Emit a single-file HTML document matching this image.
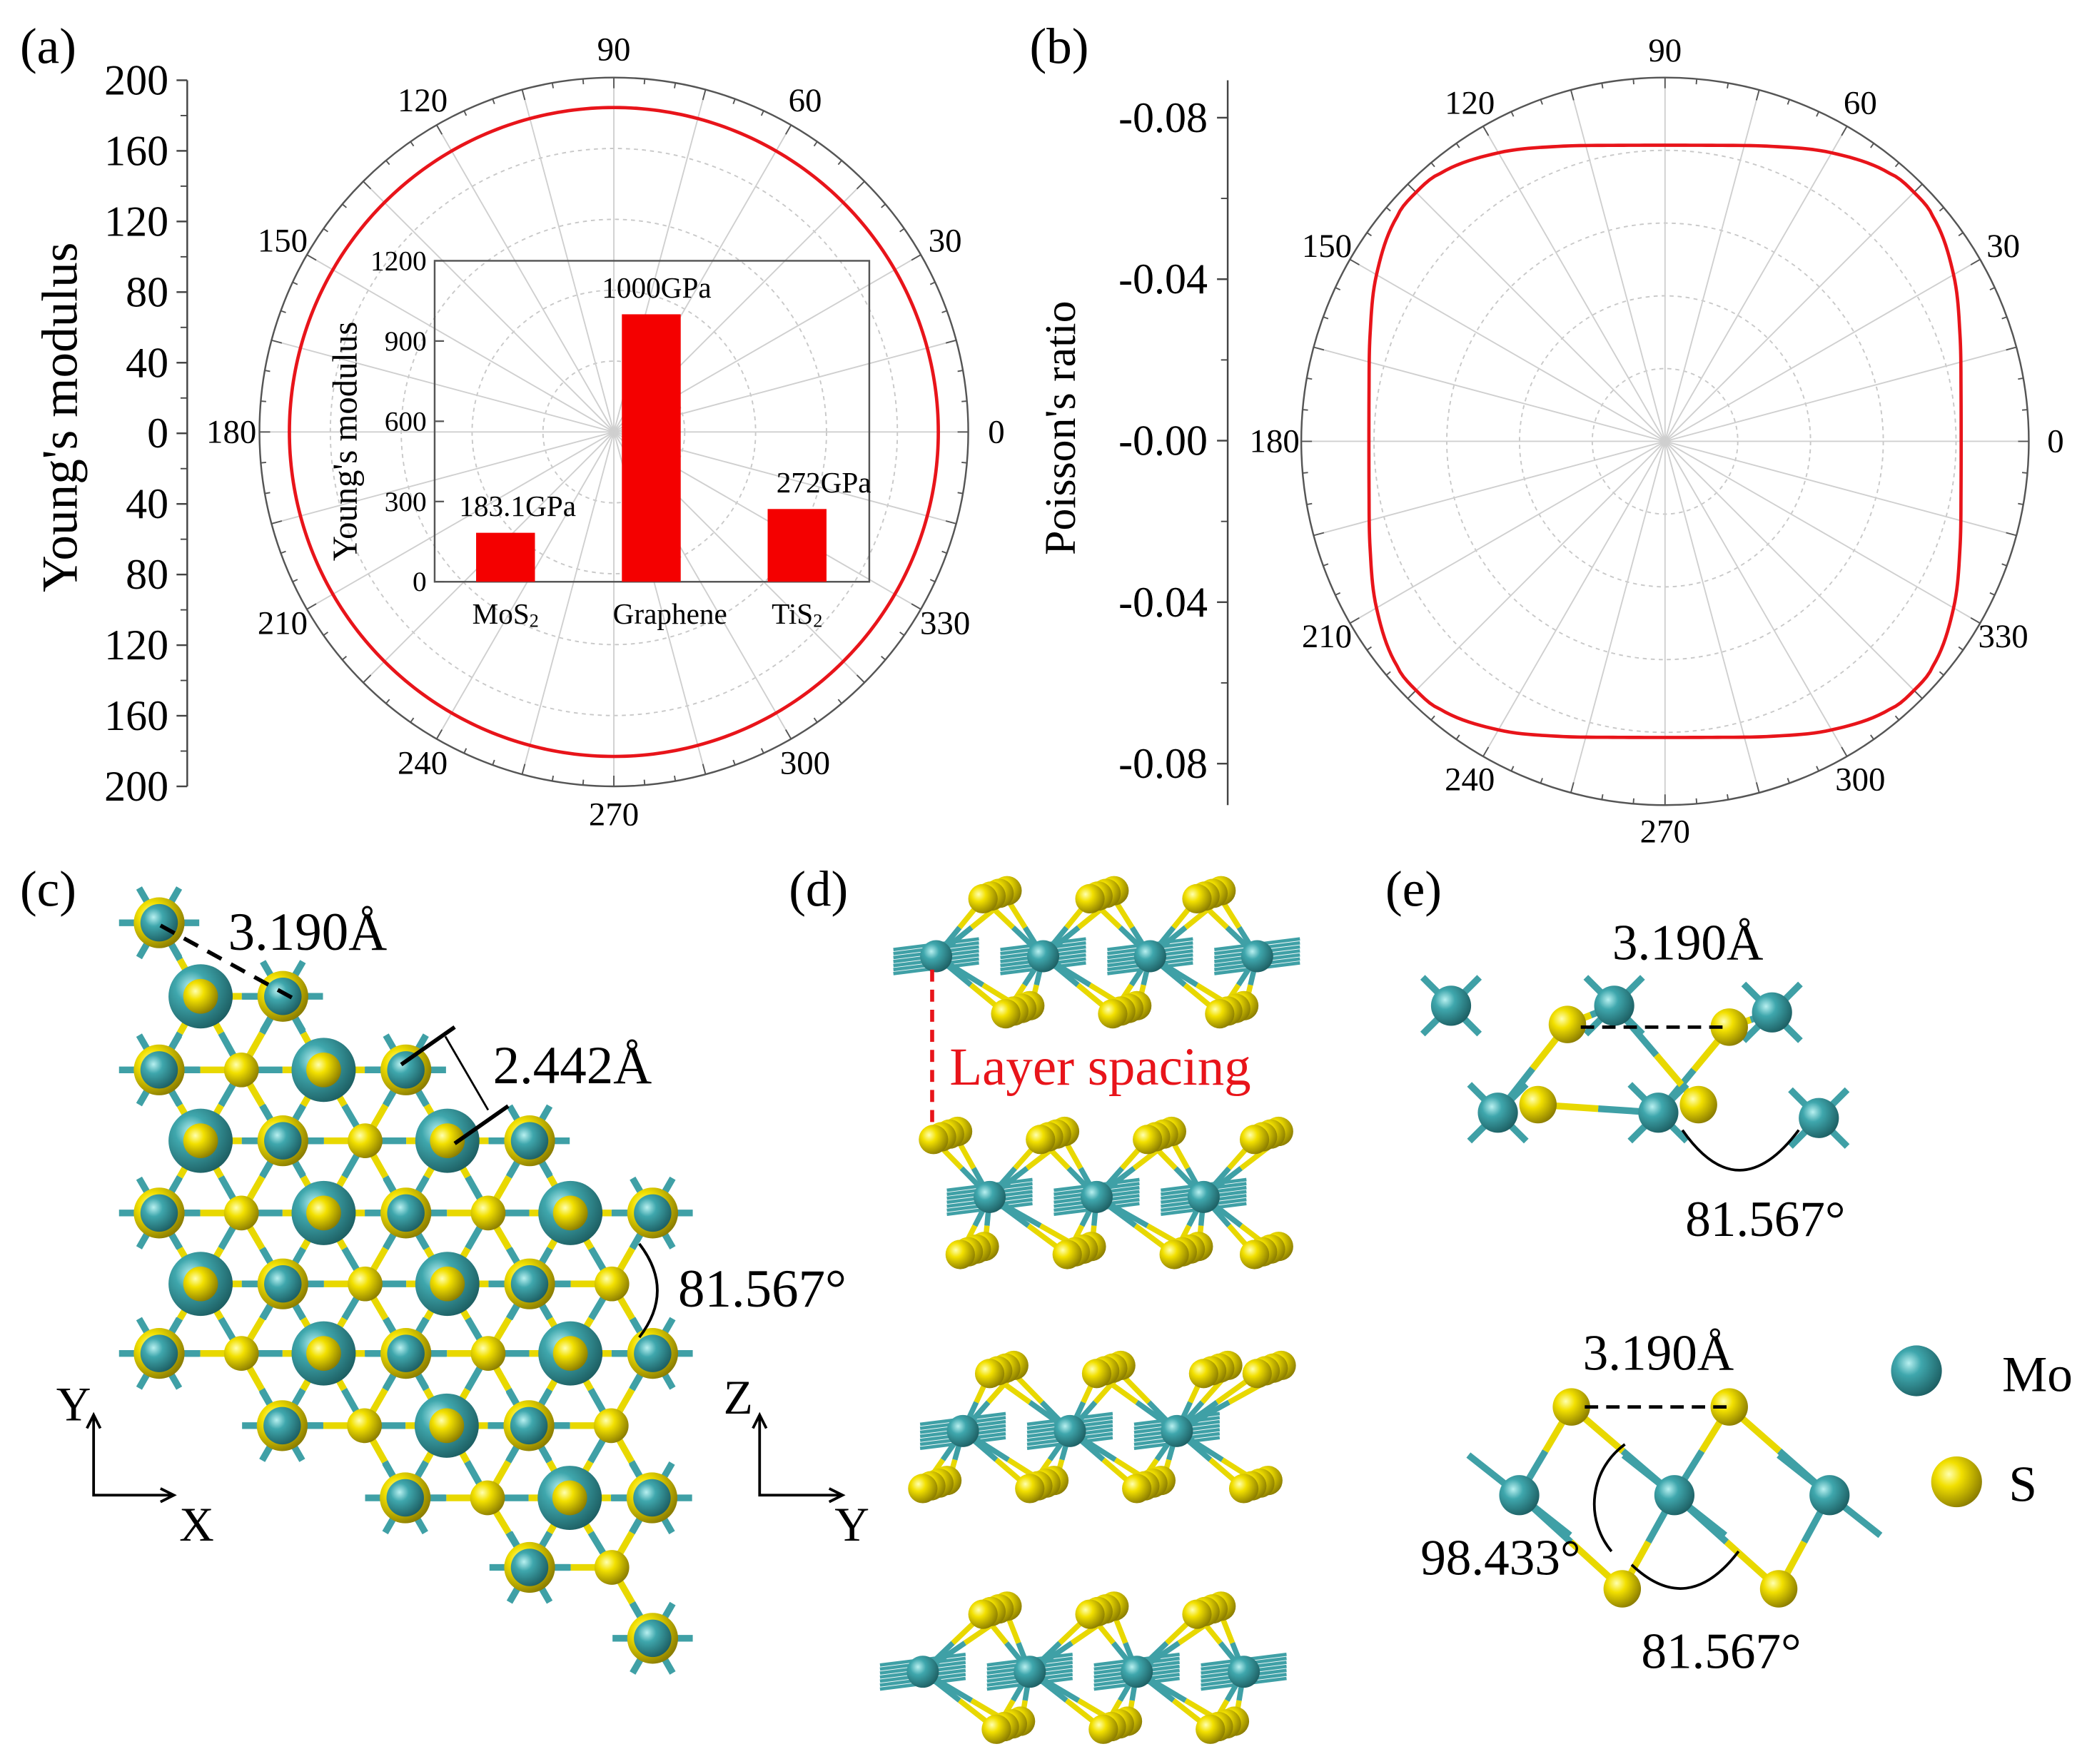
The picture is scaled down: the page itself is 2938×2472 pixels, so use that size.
<!DOCTYPE html>
<html><head><meta charset="utf-8"><style>
html,body{margin:0;padding:0;background:#fff;}
svg{display:block;}
svg text{font-family:"Liberation Serif","Times New Roman","DejaVu Serif",serif;}
</style></head><body>
<svg id="fig" width="2938" height="2472" viewBox="0 0 1568 1319" preserveAspectRatio="none" xmlns="http://www.w3.org/2000/svg">
<defs>
<radialGradient id="gMo" cx="0.35" cy="0.35" r="0.7"><stop offset="0" stop-color="#b8f0f0"/><stop offset="0.35" stop-color="#3fa7ad"/><stop offset="1" stop-color="#1d5f63"/></radialGradient>
<radialGradient id="gS" cx="0.35" cy="0.35" r="0.7"><stop offset="0" stop-color="#ffffb0"/><stop offset="0.35" stop-color="#f2e000"/><stop offset="1" stop-color="#8a7c00"/></radialGradient>
</defs>
</svg>
<script>
// ---- data ----
const ymTicks=['200','160','120','80','40','0','40','80','120','160','200'];
const youngTheta=[0,30,60,90,120,150,180,210,240,270,300,330];
const youngR=[183.1,183.1,183.1,183.1,183.1,183.1,183.1,183.1,183.1,183.1,183.1,183.1];
const insetCats=['MoS','Graphene','TiS'];
const insetVals=[183.1,1000,272];
const insetLabels=['183.1GPa','1000GPa','272GPa'];
const insetTicks=[0,300,600,900,1200];
const prTicks=['-0.08','-0.04','-0.00','-0.04','-0.08'];
const poissonTheta=[0,10,20,30,40,45,50,60,70,80,90,100,110,120,130,135,140,150,160,170,180,190,200,210,220,225,230,240,250,260,270,280,290,300,310,315,320,330,340,350];
const poissonR=[0.0735,0.0746,0.0779,0.0827,0.0868,0.0874,0.0868,0.0827,0.0779,0.0746,0.0735,0.0746,0.0779,0.0827,0.0868,0.0874,0.0868,0.0827,0.0779,0.0746,0.0735,0.0746,0.0779,0.0827,0.0868,0.0874,0.0868,0.0827,0.0779,0.0746,0.0735,0.0746,0.0779,0.0827,0.0868,0.0874,0.0868,0.0827,0.0779,0.0746];
const angleLabels=[0,30,60,90,120,150,180,210,240,270,300,330];

const NS='http://www.w3.org/2000/svg';
const svg=document.getElementById('fig');
function mk(tag,parent,attrs){const e=document.createElementNS(NS,tag);for(const k in attrs)e.setAttribute(k,attrs[k]);(parent||svg).appendChild(e);return e;}
function txt(parent,x,y,s,size,anchor,extra){const t=mk('text',parent,Object.assign({x:x,y:y,'font-size':size,'text-anchor':anchor||'middle','dominant-baseline':'central'},extra||{}));t.style.fontFamily='"Liberation Serif","Times New Roman","DejaVu Serif",serif';t.textContent=s;return t;}
function grp(name){const g=mk('g',svg,{});return g;}

function polarPath(cx,cy,thetas,rs,scale){
  const n=thetas.length;let d='';
  for(let a=0;a<=360;a+=1){
    let i=0;while(i<n-1&&thetas[i+1]<=a)i++;
    const t0=thetas[i],t1=(i+1<n)?thetas[i+1]:thetas[0]+360;
    const p0=rs[(i-1+n)%n],p1=rs[i],p2=rs[(i+1)%n],p3=rs[(i+2)%n];
    const u=(a-t0)/(t1-t0);
    const r=0.5*((2*p1)+(-p0+p2)*u+(2*p0-5*p1+4*p2-p3)*u*u+(-p0+3*p1-3*p2+p3)*u*u*u);
    const rad=a*Math.PI/180;const x=cx+scale(r)*Math.cos(rad),y=cy-scale(r)*Math.sin(rad);
    d+=(a===0?'M':'L')+x.toFixed(2)+','+y.toFixed(2);
  }
  return d+'Z';
}
function polarGrid(g,cx,cy,R,labR){
  for(let k=1;k<=4;k++){const c=mk('circle',g,{cx:cx,cy:cy,r:R*k/5,fill:'none',stroke:'#c8c8c8','stroke-width':1,'stroke-dasharray':'3,3'});}
  for(let a=0;a<360;a+=15){const rad=a*Math.PI/180;const l=mk('line',g,{x1:cx,y1:cy,x2:cx+R*Math.cos(rad),y2:cy-R*Math.sin(rad),stroke:'#cfcfcf','stroke-width':1});}
  const oc=mk('circle',g,{cx:cx,cy:cy,r:R,fill:'none',stroke:'#555','stroke-width':1.3});
  
  for(let a=0;a<360;a+=5){const rad=a*Math.PI/180;const L=a%15===0?8:4;mk('line',g,{x1:cx+R*Math.cos(rad),y1:cy-R*Math.sin(rad),x2:cx+(R-L)*Math.cos(rad),y2:cy-(R-L)*Math.sin(rad),stroke:'#555','stroke-width':1});}
  angleLabels.forEach(a=>{const rad=a*Math.PI/180;const t=txt(g,cx+labR*Math.cos(rad),cy-labR*Math.sin(rad),String(a),25);});
}

// ---- panel a ----
const ga=grp('panel-a');
txt(ga,36,35,'(a)',38);
const axA=mk('line',ga,{x1:140,y1:60,x2:140,y2:588,stroke:'#444','stroke-width':1.3});

const yA=i=>60+i*(528/(ymTicks.length-1));
ymTicks.forEach((s,i)=>{mk('line',ga,{x1:140,y1:yA(i),x2:132,y2:yA(i),stroke:'#444','stroke-width':1.3});
  if(i<ymTicks.length-1)mk('line',ga,{x1:140,y1:yA(i+0.5),x2:135,y2:yA(i+0.5),stroke:'#444','stroke-width':1});
  const t=txt(ga,126,yA(i),s,32,'end');});
const yta=txt(ga,0,0,"Young's modulus",38,'middle',{transform:'translate(45,312) rotate(-90)'});

polarGrid(ga,459,323,265,286);
const scA=v=>v*265/200;
const ca=mk('path',ga,{d:polarPath(459,323,youngTheta,youngR,scA),fill:'none',stroke:'#e8141a','stroke-width':2.5});

const gi=grp('inset-bar-chart');
const ib=mk('rect',gi,{x:325,y:195,width:325,height:240,fill:'none',stroke:'#555','stroke-width':1.3});

const yI=v=>435-v/1200*240;
insetTicks.forEach(v=>{mk('line',gi,{x1:325,y1:yI(v),x2:332,y2:yI(v),stroke:'#555','stroke-width':1.2});
  const t=txt(gi,319,yI(v),String(v),21,'end');});
const iyt=txt(gi,0,0,"Young's modulus",26,'middle',{transform:'translate(258,330) rotate(-90)'});

const xI=i=>378+i*109;
insetVals.forEach((v,i)=>{
  const b=mk('rect',gi,{x:xI(i)-22,y:yI(v),width:44,height:435-yI(v),fill:'#f40000'});
  
  const l=txt(gi,xI(i)+(i===0?9:i===2?20:4),yI(v)-20,insetLabels[i],22);
  const c=txt(gi,xI(i)+(i===1?14:0),459,insetCats[i],22);
  if(i!==1){const ts=mk('tspan',c,{'font-size':14,dy:5});ts.textContent='2';}
});

// ---- panel b ----
const gb=grp('panel-b');
txt(gb,792,35,'(b)',38);
const axB=mk('line',gb,{x1:918,y1:60,x2:918,y2:602,stroke:'#444','stroke-width':1.3});

const yB=i=>88+i*120.75;
prTicks.forEach((s,i)=>{mk('line',gb,{x1:918,y1:yB(i),x2:910,y2:yB(i),stroke:'#444','stroke-width':1.3});
  if(i<prTicks.length-1)mk('line',gb,{x1:918,y1:yB(i+0.5),x2:913,y2:yB(i+0.5),stroke:'#444','stroke-width':1});
  const t=txt(gb,903,yB(i),s,32,'end');});
const ytb=txt(gb,0,0,"Poisson's ratio",33,'middle',{transform:'translate(793,320) rotate(-90)'});

polarGrid(gb,1245,330,272,292);
const scB=v=>v/0.08*241;
const cb=mk('path',gb,{d:polarPath(1245,330,poissonTheta,poissonR,scB),fill:'none',stroke:'#e8141a','stroke-width':2.5});


function atom(g,x,y,r,type){return mk('circle',g,{cx:x,cy:y,r:r,fill:type==='Mo'?'url(#gMo)':'url(#gS)'});}
function bond(g,x1,y1,x2,y2,w){const mx=(x1+x2)/2,my=(y1+y2)/2;
  mk('line',g,{x1:x1,y1:y1,x2:mx,y2:my,stroke:'#3fa0a6','stroke-width':w||5});
  mk('line',g,{x1:mx,y1:my,x2:x2,y2:y2,stroke:'#e8d800','stroke-width':w||5});}

// ---- panel c ----
const gc=grp('panel-c');
txt(gc,36,665,'(c)',38);
const rows=[[690,119,119],[745,150,211],[800,119,303],[853,150,396],[907,119,488],[960,150,457],[1012,119,488],[1066,211,457],[1120,303,488],[1172,396,457],[1225,488,488]];
const atomsC=[];
rows.forEach(r=>{for(let x=r[1];x<=r[2]+2;x+=61.5){const col=Math.round((x-119)/30.75);const t=(col%2===0)?(col/2)%3:((col+3)/2)%3;atomsC.push({x:x,y:r[0],t:['Mo','S','Big'][t]});}});
const bg=mk('g',gc,{});
atomsC.forEach(a=>atomsC.forEach(b=>{const d=Math.hypot(a.x-b.x,a.y-b.y);if(d>1&&d<64&&(a.x<b.x||(a.x===b.x&&a.y<b.y))){if(a.t==='Mo'||b.t==='Big')bond(bg,a.x,a.y,b.x,b.y,5);else bond(bg,b.x,b.y,a.x,a.y,5);}}));
atomsC.forEach(a=>{if(a.t==='Mo'){for(let k=0;k<6;k++){const an=k*Math.PI/3;mk('line',gc,{x1:a.x,y1:a.y,x2:a.x+30*Math.cos(an),y2:a.y+30*Math.sin(an),stroke:'#3fa0a6','stroke-width':5});}}});
atomsC.forEach(a=>{let c;
  if(a.t==='Big'){c=atom(gc,a.x,a.y,24,'Mo');atom(gc,a.x,a.y,13,'S');}
  else if(a.t==='Mo'){atom(gc,a.x,a.y,19,'S');c=atom(gc,a.x,a.y,14,'Mo');}
  else c=atom(gc,a.x,a.y,13,'S');
  });
mk('line',gc,{x1:120,y1:692,x2:222,y2:748,stroke:'#000','stroke-width':3,'stroke-dasharray':'12,8'});
txt(gc,230,697,'3.190Å',40);
mk('line',gc,{x1:300,y1:796,x2:340,y2:768,stroke:'#000','stroke-width':3});
mk('line',gc,{x1:340,y1:855,x2:380,y2:827,stroke:'#000','stroke-width':3});
mk('line',gc,{x1:333,y1:775,x2:365,y2:830,stroke:'#000','stroke-width':1.5});
txt(gc,428,797,'2.442Å',40);
mk('path',gc,{d:'M478,930 Q505,965 478,1000',fill:'none',stroke:'#000','stroke-width':2});
txt(gc,570,964,'81.567°',40);
mk('path',gc,{d:'M70,1060 L70,1118 L128,1118',fill:'none',stroke:'#000','stroke-width':2});
mk('path',gc,{d:'M65,1068 L70,1058 L75,1068 M120,1113 L130,1118 L120,1123',fill:'none',stroke:'#000','stroke-width':2});
txt(gc,55,1050,'Y',36);txt(gc,147,1140,'X',36);

// ---- panel d ----
const gd=grp('panel-d');
txt(gd,612,665,'(d)',38);
function cluster(g,x,y){for(let s=3;s>=0;s--)atom(g,x+s*6,y-s*2,11,'S');}
function strip(y0,moXs,sTopXs,sBotXs){
  const g=mk('g',gd,{});
  const my=y0+55,ty=y0+12,by=y0+98;
  moXs.forEach(mx=>{for(let s=-3;s<=3;s++)mk('line',g,{x1:mx-32,y1:my+s*3+4,x2:mx+32,y2:my+s*3-4,stroke:'#3fa0a6','stroke-width':2.5});});
  moXs.forEach(mx=>{
    sTopXs.forEach(sx=>{if(Math.abs(sx-mx)<62)for(let s=0;s<4;s+=3)bond(g,mx,my,sx+s*6,ty,4);});
    sBotXs.forEach(sx=>{if(Math.abs(sx-mx)<62)for(let s=0;s<4;s+=3)bond(g,mx,my,sx+s*6,by,4);});
  });
  sTopXs.forEach(sx=>cluster(g,sx,ty));
  moXs.forEach(mx=>atom(g,mx,my,12,'Mo'));
  sBotXs.forEach(sx=>cluster(g,sx,by));
}
strip(660,[700,780,860,940],[735,815,895],[752,832,912]);
strip(840,[740,820,900],[698,778,858,938],[718,798,878,938]);
strip(1015,[720,800,880],[740,820,900,940],[690,770,850,930]);
strip(1195,[690,770,850,930],[735,815,895],[745,825,905]);
mk('line',gd,{x1:697,y1:725,x2:697,y2:842,stroke:'#e8141a','stroke-width':3,'stroke-dasharray':'9,6'});
const ls=txt(gd,710,798,'Layer  spacing',40,'start',{fill:'#e8141a'});

mk('path',gd,{d:'M568,1060 L568,1118 L628,1118',fill:'none',stroke:'#000','stroke-width':2});
mk('path',gd,{d:'M563,1068 L568,1058 L573,1068 M620,1113 L630,1118 L620,1123',fill:'none',stroke:'#000','stroke-width':2});
txt(gd,552,1045,'Z',36);txt(gd,637,1140,'Y',36);

// ---- panel e ----
const ge=grp('panel-e');
txt(ge,1057,665,'(e)',38);
function cross(g,x,y){for(let k=0;k<4;k++){const an=Math.PI/4+k*Math.PI/2;mk('line',g,{x1:x,y1:y,x2:x+30*Math.cos(an),y2:y+30*Math.sin(an),stroke:'#3fa0a6','stroke-width':5});}}
const moT=[[1085,752],[1207,752],[1325,757],[1120,832],[1240,832],[1360,836]];
const sT=[[1172,766],[1293,768],[1150,826],[1270,826]];
bond(ge,1207,752,1172,766);bond(ge,1325,757,1293,768);bond(ge,1120,832,1172,766);bond(ge,1240,832,1293,768);bond(ge,1240,832,1150,826);bond(ge,1207,752,1270,826);
moT.forEach(p=>cross(ge,p[0],p[1]));
moT.forEach(p=>{const c=atom(ge,p[0],p[1],15,'Mo');});
sT.forEach(p=>{const c=atom(ge,p[0],p[1],14,'S');});
mk('line',ge,{x1:1182,y1:768,x2:1293,y2:768,stroke:'#000','stroke-width':2.5,'stroke-dasharray':'10,6'});
mk('path',ge,{d:'M1258,845 Q1300,905 1345,845',fill:'none',stroke:'#000','stroke-width':2});
txt(ge,1262,705,'3.190Å',38);txt(ge,1320,912,'81.567°',38);
const moB=[[1136,1118],[1252,1118],[1368,1118]];
const sB=[[1175,1052],[1293,1052],[1213,1188],[1330,1188]];
bond(ge,1136,1118,1175,1052);bond(ge,1252,1118,1175,1052);bond(ge,1252,1118,1293,1052);bond(ge,1368,1118,1293,1052);
bond(ge,1136,1118,1213,1188);bond(ge,1252,1118,1213,1188);bond(ge,1252,1118,1330,1188);bond(ge,1368,1118,1330,1188);
moB.forEach(p=>{mk('line',ge,{x1:p[0]-38,y1:p[1]-30,x2:p[0]+38,y2:p[1]+30,stroke:'#3fa0a6','stroke-width':5});});
moB.forEach(p=>{const c=atom(ge,p[0],p[1],15,'Mo');});
sB.forEach(p=>{const c=atom(ge,p[0],p[1],14,'S');});
mk('line',ge,{x1:1185,y1:1052,x2:1293,y2:1052,stroke:'#000','stroke-width':2.5,'stroke-dasharray':'10,6'});
mk('path',ge,{d:'M1215,1080 A55,55 0 0 0 1205,1160',fill:'none',stroke:'#000','stroke-width':2});
mk('path',ge,{d:'M1220,1170 Q1262,1210 1300,1160',fill:'none',stroke:'#000','stroke-width':2});
txt(ge,1240,1012,'3.190Å',38);txt(ge,1122,1165,'98.433°',38);txt(ge,1287,1235,'81.567°',38);
const lg=grp('legend');
const lm=atom(lg,1433,1025,19,'Mo');
const lsM=atom(lg,1463,1108,19,'S');
const lt1=txt(lg,1497,1028,'Mo',38,'start');
const lt2=txt(lg,1502,1110,'S',38,'start');
</script>
</body></html>
